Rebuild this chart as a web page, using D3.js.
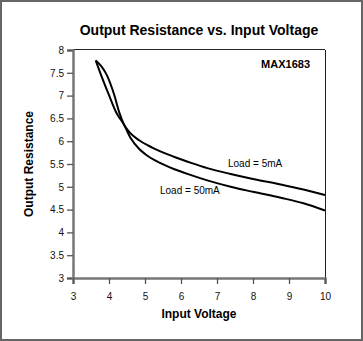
<!DOCTYPE html>
<html><head><meta charset="utf-8">
<script src="https://cdn.jsdelivr.net/npm/d3@7"></script>
<style>body{margin:0;background:#fff}svg{display:block}</style>
</head><body>
<svg id="c" width="363" height="341"></svg>
<script>
const xTicks = [3,4,5,6,7,8,9,10];
const yTicks = [3,3.5,4,4.5,5,5.5,6,6.5,7,7.5,8];
const load5X  = [3.63,3.8,3.94,4.14,4.29,4.40,4.6,4.84,5.2,5.8,6.3,6.73,7.38,8.0,8.77,9.4,10];
const load5Y  = [7.77,7.63,7.45,7.03,6.62,6.39,6.17,6.02,5.86,5.66,5.52,5.41,5.28,5.17,5.05,4.94,4.82];
const load50X = [3.63,3.78,4.0,4.22,4.40,4.6,4.84,5.0,5.4,5.8,6.3,6.73,7.38,8.0,8.77,9.4,10];
const load50Y = [7.77,7.45,7.01,6.60,6.39,6.07,5.83,5.72,5.53,5.39,5.25,5.14,5.00,4.89,4.76,4.64,4.48];
const seriesNames = ["Load = 5mA","Load = 50mA"];

const svg = d3.select("#c");
const font = "'Liberation Sans', Arial, sans-serif";
const L=73, R=325, T=50, B=278;
const x = d3.scaleLinear().domain([3,10]).range([L,R]);
const y = d3.scaleLinear().domain([3,8]).range([B,T]);

svg.append("rect").attr("x",1).attr("y",1).attr("width",361).attr("height",339)
  .attr("fill","none").attr("stroke","#666").attr("stroke-width",2);

svg.append("line").attr("x1",L).attr("x2",R).attr("y1",T-0.5).attr("y2",T-0.5).attr("stroke","#222").attr("stroke-width",1);
svg.append("line").attr("x1",R+0.5).attr("x2",R+0.5).attr("y1",T).attr("y2",B).attr("stroke","#222").attr("stroke-width",1);

const yAx = svg.append("g").attr("transform",`translate(${L},0)`)
  .call(d3.axisLeft(y).tickValues(yTicks).tickSize(6).tickPadding(3).tickFormat(d3.format("")));
const xAx = svg.append("g").attr("transform",`translate(0,${B})`)
  .call(d3.axisBottom(x).tickValues(xTicks).tickSize(6).tickPadding(9).tickFormat(d3.format("")));
[yAx,xAx].forEach(g=>{
  g.select(".domain").attr("stroke","#777").attr("stroke-width",2.5);
  g.selectAll(".tick line").attr("stroke","#555").attr("stroke-width",1.3);
  g.selectAll("text").attr("font-family",font).attr("font-size",10).attr("fill","#111");
});

const line = d3.line().x(d=>x(d[0])).y(d=>y(d[1])).curve(d3.curveMonotoneX);
[[load5X,load5Y],[load50X,load50Y]].forEach(([xs,ys])=>{
  svg.append("path").datum(xs.map((v,i)=>[v,ys[i]])).attr("d",line)
    .attr("fill","none").attr("stroke","#000").attr("stroke-width",2);
});

svg.append("text").attr("x",199).attr("y",35).attr("text-anchor","middle")
  .attr("font-family",font).attr("font-weight","bold").attr("font-size",14).text("Output Resistance vs. Input Voltage");
svg.append("text").attr("x",199).attr("y",318).attr("text-anchor","middle")
  .attr("font-family",font).attr("font-weight","bold").attr("font-size",12).text("Input Voltage");
svg.append("text").attr("transform",`translate(33,${(T+B)/2}) rotate(-90)`).attr("text-anchor","middle")
  .attr("font-family",font).attr("font-weight","bold").attr("font-size",12).text("Output Resistance");
svg.append("text").attr("x",310).attr("y",68).attr("text-anchor","end")
  .attr("font-family",font).attr("font-weight","bold").attr("font-size",11).text("MAX1683");
svg.append("text").attr("x",228).attr("y",167)
  .attr("font-family",font).attr("font-size",10).text(seriesNames[0]);
svg.append("text").attr("x",160).attr("y",194)
  .attr("font-family",font).attr("font-size",10).text(seriesNames[1]);
</script>
</body></html>
